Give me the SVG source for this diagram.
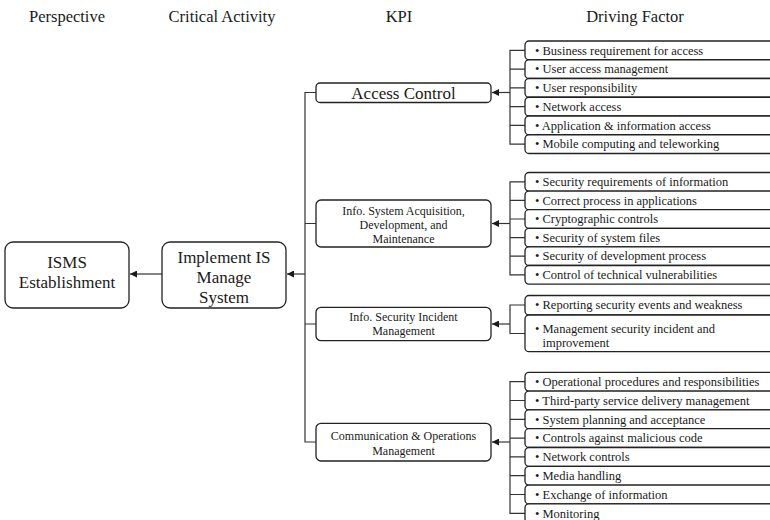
<svg xmlns="http://www.w3.org/2000/svg" width="770" height="520" viewBox="0 0 770 520">
  <style>
    text { font-family: "Liberation Serif", "Times New Roman", serif; fill: #1a1a1a; }
    .hdr { font-size: 16.5px; text-anchor: middle; }
    .big { font-size: 17px; text-anchor: middle; }
    .kpi { font-size: 12px; text-anchor: middle; }
    .kpi-lg { font-size: 17px; text-anchor: middle; }
    .df { font-size: 12.5px; }
    .box { fill: #ffffff; stroke: #222222; stroke-width: 1.3; }
    .wire { fill: none; stroke: #333333; stroke-width: 1.2; }
  </style>
  <defs>
    <marker id="arrow" viewBox="0 0 10 10" refX="10" refY="5" markerWidth="10" markerHeight="7" markerUnits="userSpaceOnUse" orient="auto">
      <path d="M0,0 L10,5 L0,10 z" fill="#1a1a1a"/>
    </marker>
  </defs>

  <!-- column headings -->
  <g id="headers">
    <text class="hdr" x="67" y="22">Perspective</text>
    <text class="hdr" x="222" y="22">Critical Activity</text>
    <text class="hdr" x="399" y="22">KPI</text>
    <text class="hdr" x="635" y="22">Driving Factor</text>
  </g>

  <!-- connectors -->
  <g id="connectors">
    <line class="wire" x1="162" y1="274" x2="130" y2="274" marker-end="url(#arrow)"/>
    <line class="wire" x1="305" y1="274" x2="287" y2="274" marker-end="url(#arrow)"/>
    <!-- trunk joining the KPI boxes -->
    <path class="wire" d="M316,92.5 H305 V442 H316 M305,223.5 H316 M305,324 H316"/>
    <!-- bracket: access control -->
    <path class="wire" d="M525,50.4 H510 V144.1 H525 M510,69.1 H525 M510,87.9 H525 M510,106.6 H525 M510,125.4 H525"/>
    <line class="wire" x1="510" y1="92.5" x2="492" y2="92.5" marker-end="url(#arrow)"/>
    <!-- bracket: system acquisition -->
    <path class="wire" d="M525,181.8 H510 V274.8 H525 M510,200.4 H525 M510,219 H525 M510,237.6 H525 M510,256.2 H525"/>
    <line class="wire" x1="510" y1="223.5" x2="492" y2="223.5" marker-end="url(#arrow)"/>
    <!-- bracket: incident management -->
    <path class="wire" d="M525,305 H510 V333.5 H525"/>
    <line class="wire" x1="510" y1="324" x2="492" y2="324" marker-end="url(#arrow)"/>
    <!-- bracket: communication & operations -->
    <path class="wire" d="M525,381.7 H510 V513.3 H525 M510,400.5 H525 M510,419.3 H525 M510,438.1 H525 M510,456.9 H525 M510,475.7 H525 M510,494.5 H525"/>
    <line class="wire" x1="510" y1="442" x2="492" y2="442" marker-end="url(#arrow)"/>
  </g>

  <!-- perspective -->
  <g id="isms">
    <rect class="box" x="5" y="242" width="124" height="66" rx="8"/>
    <text class="big" x="67" y="267.5">ISMS</text>
    <text class="big" x="67" y="287.5">Establishment</text>
  </g>

  <!-- critical activity -->
  <g id="implement">
    <rect class="box" x="162" y="242" width="124" height="66" rx="8"/>
    <text class="big" x="224" y="262.5">Implement IS</text>
    <text class="big" x="224" y="282.5">Manage</text>
    <text class="big" x="224" y="302.5">System</text>
  </g>

  <!-- KPIs -->
  <g id="kpi-access">
    <rect class="box" x="316" y="83" width="175" height="19.5" rx="4"/>
    <text class="kpi-lg" x="403.5" y="98.5">Access Control</text>
  </g>
  <g id="kpi-acquisition">
    <rect class="box" x="316" y="200" width="175" height="47" rx="5"/>
    <text class="kpi" x="403.5" y="215">Info. System Acquisition,</text>
    <text class="kpi" x="403.5" y="229.2">Development, and</text>
    <text class="kpi" x="403.5" y="243.4">Maintenance</text>
  </g>
  <g id="kpi-incident">
    <rect class="box" x="316" y="307.3" width="175" height="33.4" rx="5"/>
    <text class="kpi" x="403.5" y="321">Info. Security Incident</text>
    <text class="kpi" x="403.5" y="335">Management</text>
  </g>
  <g id="kpi-operations">
    <rect class="box" x="316" y="423.3" width="175" height="37.7" rx="5"/>
    <text class="kpi" x="403.5" y="440">Communication &amp; Operations</text>
    <text class="kpi" x="403.5" y="454.5">Management</text>
  </g>

  <!-- driving factors: access control -->
  <g id="df-access">
    <rect class="box" x="525" y="41" width="262" height="18.75" rx="4"/>
    <rect class="box" x="525" y="59.75" width="262" height="18.75" rx="4"/>
    <rect class="box" x="525" y="78.5" width="262" height="18.75" rx="4"/>
    <rect class="box" x="525" y="97.25" width="262" height="18.75" rx="4"/>
    <rect class="box" x="525" y="116" width="262" height="18.75" rx="4"/>
    <rect class="box" x="525" y="134.75" width="262" height="18.75" rx="4"/>
    <text class="df" x="535" y="54.6">• Business requirement for access</text>
    <text class="df" x="535" y="73.3">• User access management</text>
    <text class="df" x="535" y="92.1">• User responsibility</text>
    <text class="df" x="535" y="110.8">• Network access</text>
    <text class="df" x="535" y="129.6">• Application &amp; information access</text>
    <text class="df" x="535" y="148.3">• Mobile computing and teleworking</text>
  </g>

  <!-- driving factors: system acquisition -->
  <g id="df-acquisition">
    <rect class="box" x="525" y="172.5" width="262" height="18.6" rx="4"/>
    <rect class="box" x="525" y="191.1" width="262" height="18.6" rx="4"/>
    <rect class="box" x="525" y="209.7" width="262" height="18.6" rx="4"/>
    <rect class="box" x="525" y="228.3" width="262" height="18.6" rx="4"/>
    <rect class="box" x="525" y="246.9" width="262" height="18.6" rx="4"/>
    <rect class="box" x="525" y="265.5" width="262" height="18.6" rx="4"/>
    <text class="df" x="535" y="186">• Security requirements of information</text>
    <text class="df" x="535" y="204.6">• Correct process in applications</text>
    <text class="df" x="535" y="223.2">• Cryptographic controls</text>
    <text class="df" x="535" y="241.8">• Security of system files</text>
    <text class="df" x="535" y="260.4">• Security of development process</text>
    <text class="df" x="535" y="279">• Control of technical vulnerabilities</text>
  </g>

  <!-- driving factors: incident management -->
  <g id="df-incident">
    <rect class="box" x="525" y="295.5" width="262" height="19.5" rx="4"/>
    <rect class="box" x="525" y="315" width="262" height="36.7" rx="4"/>
    <text class="df" x="535" y="309.2">• Reporting security events and weakness</text>
    <text class="df" x="535" y="333.2">• Management security incident and</text>
    <text class="df" x="542.5" y="346.6">improvement</text>
  </g>

  <!-- driving factors: communication & operations -->
  <g id="df-operations">
    <rect class="box" x="525" y="372.3" width="262" height="18.8" rx="4"/>
    <rect class="box" x="525" y="391.1" width="262" height="18.8" rx="4"/>
    <rect class="box" x="525" y="409.9" width="262" height="18.8" rx="4"/>
    <rect class="box" x="525" y="428.7" width="262" height="18.8" rx="4"/>
    <rect class="box" x="525" y="447.5" width="262" height="18.8" rx="4"/>
    <rect class="box" x="525" y="466.3" width="262" height="18.8" rx="4"/>
    <rect class="box" x="525" y="485.1" width="262" height="18.8" rx="4"/>
    <rect class="box" x="525" y="503.9" width="262" height="18.8" rx="4"/>
    <text class="df" x="535" y="385.9">• Operational procedures and responsibilities</text>
    <text class="df" x="535" y="404.7">• Third-party service delivery management</text>
    <text class="df" x="535" y="423.5">• System planning and acceptance</text>
    <text class="df" x="535" y="442.3">• Controls against malicious code</text>
    <text class="df" x="535" y="461.1">• Network controls</text>
    <text class="df" x="535" y="479.9">• Media handling</text>
    <text class="df" x="535" y="498.7">• Exchange of information</text>
    <text class="df" x="535" y="517.5">• Monitoring</text>
  </g>
</svg>
